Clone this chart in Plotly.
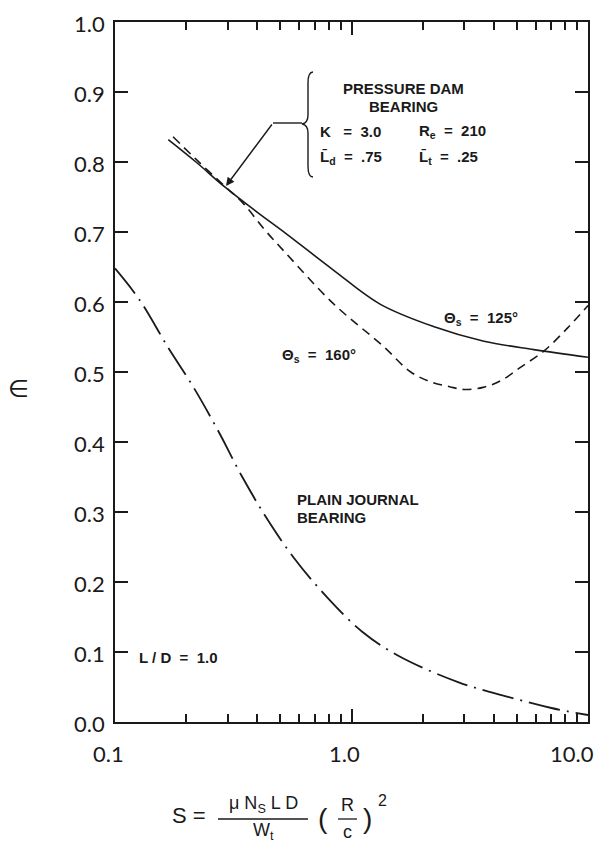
import math
import plotly.graph_objects as go

# ---------------- data ----------------
s_125 = [0.168, 0.22, 0.292, 0.40, 0.527, 0.836, 1.32, 2.22, 3.63, 5.9, 10.0]
eps_125 = [0.832, 0.800, 0.764, 0.728, 0.698, 0.646, 0.597, 0.565, 0.544, 0.532, 0.521]

s_160 = [0.176, 0.22, 0.292, 0.344, 0.43, 0.527, 0.836, 1.36, 1.78, 2.16, 2.6, 3.0, 3.6, 4.3, 5.2, 6.56, 8.2, 10.0]
eps_160 = [0.836, 0.804, 0.765, 0.743, 0.703, 0.670, 0.598, 0.537, 0.500, 0.486, 0.479, 0.475, 0.478, 0.488, 0.507, 0.531, 0.563, 0.595]

s_plain = [0.1, 0.127, 0.167, 0.214, 0.274, 0.344, 0.438, 0.569, 0.789, 1.11, 1.57, 2.82, 4.59, 7.0, 10.0]
eps_plain = [0.648, 0.603, 0.536, 0.479, 0.415, 0.351, 0.291, 0.235, 0.178, 0.129, 0.095, 0.057, 0.036, 0.020, 0.010]

x_tickvals = [0.1, 1.0, 10.0]
x_ticktext = ["0.1", "1.0", "10.0"]
x_minor = [0.2, 0.3, 0.4, 0.5, 0.6, 0.7, 0.8, 0.9, 2, 3, 4, 5, 6, 7, 8, 9]
y_tickvals = [0.0, 0.1, 0.2, 0.3, 0.4, 0.5, 0.6, 0.7, 0.8, 0.9, 1.0]
y_ticktext = ["0.0", "0.1", "0.2", "0.3", "0.4", "0.5", "0.6", "0.7", "0.8", "0.9", "1.0"]

# ---------------- layout geometry ----------------
W, H = 600, 843
L, R, T, B = 115, 12, 22, 121
PW, PH = W - L - R, H - T - B
INK = "#1a1a1a"


def px(x):
    return (x - L) / PW


def py(y):
    return (H - B - y) / PH


fig = go.Figure()
fig.add_trace(go.Scatter(x=s_125, y=eps_125, mode="lines", line=dict(color=INK, width=1.6, shape="spline"),
                         showlegend=False, hoverinfo="skip"))
fig.add_trace(go.Scatter(x=s_160, y=eps_160, mode="lines",
                         line=dict(color=INK, width=1.6, shape="spline", dash="9px,6px"),
                         showlegend=False, hoverinfo="skip"))
fig.add_trace(go.Scatter(x=s_plain, y=eps_plain, mode="lines",
                         line=dict(color=INK, width=1.8, shape="spline", dash="32px,7px,2px,7px"),
                         showlegend=False, hoverinfo="skip"))

fig.update_layout(
    width=W, height=H,
    margin=dict(l=L, r=R, t=T, b=B, autoexpand=False),
    paper_bgcolor="white", plot_bgcolor="white",
    showlegend=False,
    xaxis=dict(type="log", range=[-1, 1], showgrid=False, zeroline=False,
               showline=True, linecolor=INK, linewidth=2, mirror="ticks",
               ticks="inside", ticklen=13, tickwidth=1.5, tickcolor=INK,
               tickvals=x_tickvals, showticklabels=False,
               minor=dict(ticks="inside", ticklen=8, tickwidth=1.5, tickcolor=INK,
                          tickvals=x_minor, showgrid=False)),
    yaxis=dict(range=[0, 1], showgrid=False, zeroline=False,
               showline=True, linecolor=INK, linewidth=2, mirror="ticks",
               ticks="inside", ticklen=13, tickwidth=1.5, tickcolor=INK,
               tickvals=y_tickvals, showticklabels=False),
)

ann = []
tickfont = dict(family="Lato, 'Open Sans', sans-serif", size=22, color=INK)
# tick labels
for v, t in zip(y_tickvals, y_ticktext):
    ann.append(dict(x=px(107), y=v, xref="paper", yref="y", text=t, showarrow=False,
                    xanchor="right", yanchor="middle", font=tickfont, yshift=-1))
for i, (v, t) in enumerate(zip(x_tickvals, x_ticktext)):
    last = i == len(x_tickvals) - 1
    ann.append(dict(x=math.log10(v), y=py(753), xref="x", yref="paper", text=t, showarrow=False,
                    xanchor="right" if last else "center", yanchor="middle", font=tickfont,
                    xshift=8 if last else -7))

bold = dict(family="'Liberation Sans', Arial, sans-serif", size=15, color=INK)


def text(x, y, t, xanchor="left", font=bold, yanchor="middle"):
    ann.append(dict(x=px(x), y=py(y), xref="paper", yref="paper", text=t, showarrow=False,
                    xanchor=xanchor, yanchor=yanchor, font=font))


text(403, 88, "<b>PRESSURE DAM</b>", "center")
text(403, 106, "<b>BEARING</b>", "center")
text(318, 131, "<b>K   =  3.0</b>")
text(417, 131, "<b>R<sub>e</sub>  =  210</b>")
text(318, 157, "<b>L\u0304<sub>d</sub>  =  .75</b>")
text(417, 157, "<b>L\u0304<sub>t</sub>  =  .25</b>")
text(442, 318, "<b>\u0398<sub>s</sub>  =  125\u00b0</b>")
text(280, 355, "<b>\u0398<sub>s</sub>  =  160\u00b0</b>")
text(295, 499, "<b>PLAIN JOURNAL</b>")
text(295, 517, "<b>BEARING</b>")
text(137, 657, "<b>L / D  =  1.0</b>")

# y axis title (epsilon)
text(18, 389, "\u2208", "center", dict(family="'DejaVu Sans', sans-serif", size=24, color=INK))

# x axis title: S = mu Ns L D / Wt (R/c)^2
mf = dict(family="'Liberation Sans', Arial, sans-serif", size=18, color=INK)
text(189, 815, "S =", "center", dict(family="'Liberation Sans', Arial, sans-serif", size=22, color=INK))
text(263, 804, "\u03bc N<sub>S</sub> L D", "center", mf)
text(263, 832, "W<sub>t</sub>", "center", mf)
text(323, 818, "(", "center", dict(family="'Liberation Sans', Arial, sans-serif", size=28, color=INK))
text(347, 805, "R", "center", mf)
text(347, 832, "c", "center", mf)
text(367, 818, ")", "center", dict(family="'Liberation Sans', Arial, sans-serif", size=28, color=INK))
text(382, 801, "2", "center", dict(family="'Liberation Sans', Arial, sans-serif", size=16, color=INK))

# callout arrow
ann.append(dict(x=px(226), y=py(186), xref="paper", yref="paper", ax=47, ay=-63,
                showarrow=True, arrowhead=2, arrowsize=1.2, arrowwidth=1.4, arrowcolor=INK, text=""))

fig.update_layout(annotations=ann)

shapes = []
shapes.append(dict(type="line", xref="paper", yref="paper", x0=px(273), y0=py(123), x1=px(302), y1=py(123),
                   line=dict(color=INK, width=1.4)))
shapes.append(dict(type="line", xref="paper", yref="paper", x0=px(218), y0=py(819), x1=px(308), y1=py(819),
                   line=dict(color=INK, width=1.3)))
shapes.append(dict(type="line", xref="paper", yref="paper", x0=px(338), y0=py(819), x1=px(357), y1=py(819),
                   line=dict(color=INK, width=1.3)))
# brace
pts = [(313, 72), (308, 72), (308, 83), (308, 115), (308, 123), (302, 124), (308, 125), (308, 133),
       (308, 166), (308, 177), (313, 177)]
P = [(px(a), py(b)) for a, b in pts]
path = ("M {0[0]},{0[1]} Q {1[0]},{1[1]} {2[0]},{2[1]} L {3[0]},{3[1]} Q {4[0]},{4[1]} {5[0]},{5[1]} "
        "Q {6[0]},{6[1]} {7[0]},{7[1]} L {8[0]},{8[1]} Q {9[0]},{9[1]} {10[0]},{10[1]}").format(*P)
shapes.append(dict(type="path", xref="paper", yref="paper", path=path, line=dict(color=INK, width=1.4)))
fig.update_layout(shapes=shapes)

fig.write_html("out.html")
